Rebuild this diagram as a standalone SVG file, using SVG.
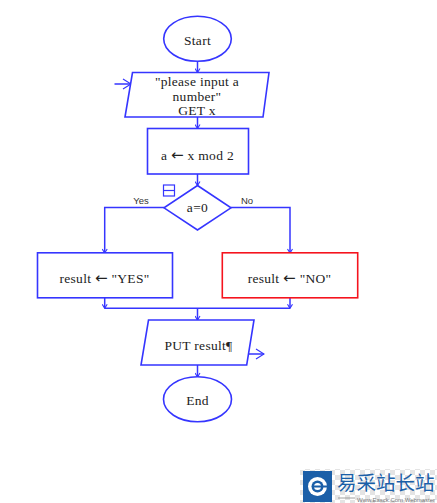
<svg xmlns="http://www.w3.org/2000/svg" width="437" height="503" viewBox="0 0 437 503">
<style>
.s{fill:#fff;stroke:#3535ff;stroke-width:1.6}
.r{fill:#fff;stroke:#f5141e;stroke-width:1.6}
.c{fill:none;stroke:#3535ff;stroke-width:1.5}
.t{font-family:"Liberation Serif",serif;font-size:13.5px;letter-spacing:.3px;fill:#222;text-anchor:middle}
.ar{font-family:"DejaVu Sans",sans-serif;font-size:15px}
.l{font-family:"Liberation Sans",sans-serif;font-size:9.5px;fill:#333;text-anchor:middle}
</style>
<defs>
<pattern id="chk" width="10" height="10" patternUnits="userSpaceOnUse">
<rect width="10" height="10" fill="#fff"/>
<rect width="5" height="5" fill="#e4e4e4"/>
<rect x="5" y="5" width="5" height="5" fill="#e4e4e4"/>
</pattern>
<marker id="a" markerWidth="6" markerHeight="6" refX="5" refY="3" orient="auto" markerUnits="userSpaceOnUse">
<path d="M1 0.5L5 3L1 5.5" fill="none" stroke="#3535ff" stroke-width="1.100"/>
</marker>
<marker id="b" markerWidth="10" markerHeight="12" refX="9" refY="6" orient="auto" markerUnits="userSpaceOnUse">
<path d="M1 1L9 6L1 11" fill="none" stroke="#3535ff" stroke-width="1.200"/>
</marker>
</defs>
<rect width="437" height="503" fill="#fff"/>
<g id="connectors">
<path class="c" d="M197.500 61.500V72.500" marker-end="url(#a)"/>
<path class="c" d="M114.500 84H131" marker-end="url(#b)"/>
<path class="c" d="M197.500 117V128.500" marker-end="url(#a)"/>
<path class="c" d="M197.500 174V185.500" marker-end="url(#a)"/>
<path class="c" d="M164 207.500H104.700V253" marker-end="url(#a)"/>
<path class="c" d="M231 207.500H290V253" marker-end="url(#a)"/>
<path class="c" d="M104.700 298V308.300" marker-end="url(#a)"/>
<path class="c" d="M290 298V308.300" marker-end="url(#a)"/>
<path class="c" d="M104.700 308.300H290"/>
<path class="c" d="M197.500 308.300V320" marker-end="url(#a)"/>
<path class="c" d="M247.500 354H264" marker-end="url(#b)"/>
<path class="c" d="M197.500 365V377" marker-end="url(#a)"/>
</g>
<g id="start">
<ellipse class="s" cx="197.500" cy="38.800" rx="33.800" ry="22.500"/>
<text class="t" x="197.500" y="45">Start</text>
</g>
<g id="input">
<path class="s" d="M132.500 72.500H269L263 117H125Z"/>
<text class="t" x="197" y="86">"please input a</text>
<text class="t" x="197" y="100.500">number"</text>
<text class="t" x="197" y="115">GET x</text>
</g>
<g id="assign">
<rect class="s" x="147.500" y="128.500" width="101" height="45.500"/>
<text class="t" x="197.500" y="160">a <tspan class="ar">←</tspan> x mod 2</text>
</g>
<g id="decision">
<path class="s" d="M197.500 185.500L231 207.800L197.500 230L164 207.800Z"/>
<text class="t" x="197.500" y="212">a=0</text>
<rect x="163.500" y="185" width="11" height="11" fill="none" stroke="#3535ff" stroke-width="1.200"/>
<path d="M163.500 190.500H174.500" fill="none" stroke="#3535ff" stroke-width="1.200"/>
<text class="l" x="141" y="204">Yes</text>
<text class="l" x="247" y="204">No</text>
</g>
<g id="yes">
<rect class="s" x="37.500" y="252.800" width="135" height="45"/>
<text class="t" x="104.500" y="283">result <tspan class="ar">←</tspan> "YES"</text>
</g>
<g id="no">
<rect class="r" x="222.300" y="252.800" width="135.400" height="45"/>
<text class="t" x="289.500" y="283">result <tspan class="ar">←</tspan> "NO"</text>
</g>
<g id="output">
<path class="s" d="M148.500 320H254L246.700 365H141Z"/>
<text class="t" x="198.500" y="350">PUT result¶</text>
</g>
<g id="end">
<ellipse class="s" cx="197.500" cy="399.300" rx="34" ry="22.500"/>
<text class="t" x="197.500" y="405">End</text>
</g>
<g id="watermark">
<rect x="300" y="469" width="137" height="34" fill="url(#chk)"/>
<rect x="303" y="471" width="29" height="31" fill="#1b5fa8"/>
<circle cx="317.500" cy="486.500" r="9.500" fill="#fff"/>
<circle cx="317.500" cy="486.500" r="6" fill="#1b5fa8"/>
<circle cx="317.500" cy="486.500" r="3.500" fill="#fff"/>
<rect x="312" y="485.500" width="16" height="2" fill="#1b5fa8"/>
<text x="337" y="490" font-family="'Noto Sans CJK SC',sans-serif" font-size="19.500" fill="#1b5fa8">易采站长站</text>
<path d="M338 498H355" stroke="#888" stroke-width="0.800" fill="none"/>
<text x="357" y="502" font-family="'Liberation Sans',sans-serif" font-size="6" fill="#777" textLength="78">Www.Easck.Com Webmaster</text>
</g>
</svg>
